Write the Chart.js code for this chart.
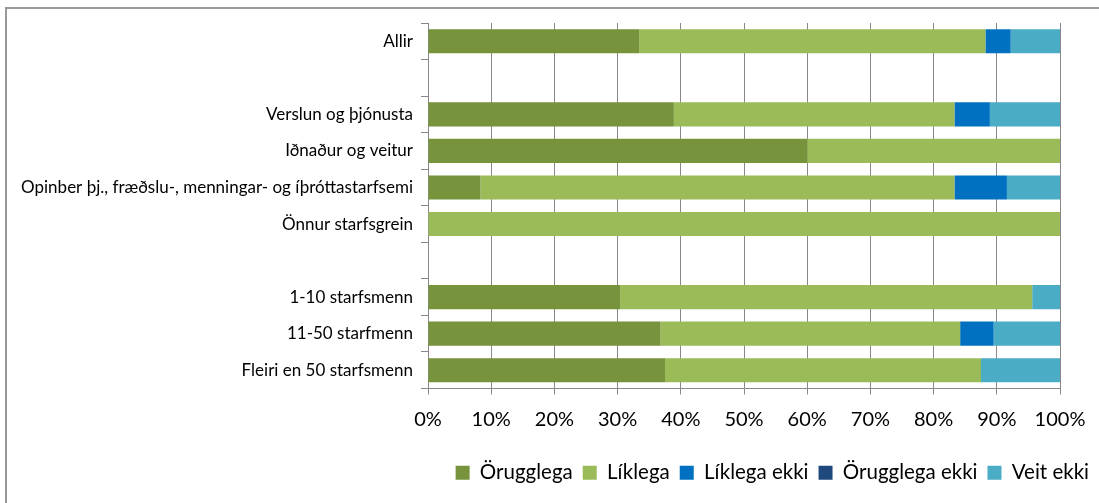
<!DOCTYPE html>
<html>
<head>
<meta charset="utf-8">
<script src="https://cdn.jsdelivr.net/npm/chart.js@4"></script>
<style>
  html, body { margin: 0; padding: 0; background: #fff; }
  #frame { position: absolute; left: 5px; top: 7px; width: 1200px; height: 600px; border: 2px solid #999; pointer-events: none; }
  #wrap { position: absolute; left: 0; top: 0; width: 1099px; height: 503px; }
</style>
</head>
<body>
<div id="wrap"><canvas id="chart"></canvas></div>
<div id="frame"></div>
<script>
const categories = [
    'Allir',
    '',
    'Verslun og þjónusta',
    'Iðnaður og veitur',
    'Opinber þj., fræðslu-, menningar- og íþróttastarfsemi',
    'Önnur starfsgrein',
    '',
    '1-10 starfsmenn',
    '11-50 starfmenn',
    'Fleiri en 50 starfsmenn'
];
const seriesNames = ['Örugglega', 'Líklega', 'Líklega ekki', 'Örugglega ekki', 'Veit ekki'];
const orugglega     = [33.4, null, 38.9, 60, 8.3, 0, null, 30.4, 36.8, 37.5];
const liklega       = [54.8, null, 44.4, 40, 75.0, 100, null, 65.2, 47.4, 50.0];
const liklegaEkki   = [4.0, null, 5.6, 0, 8.3, 0, null, 0, 5.3, 0];
const orugglegaEkki = [0, null, 0, 0, 0, 0, null, 0, 0, 0];
const veitEkki      = [7.8, null, 11.1, 0, 8.4, 0, null, 4.4, 10.5, 12.5];
const xTicks = [0, 10, 20, 30, 40, 50, 60, 70, 80, 90, 100];

const seriesData = [orugglega, liklega, liklegaEkki, orugglegaEkki, veitEkki];
const colors = ['#77933c', '#9bbb59', '#0070c0', '#1f497d', '#4bacc6'];
const font = "Lato, 'Open Sans', sans-serif";

new Chart(document.getElementById('chart'), {
    type: 'bar',
    data: {
        labels: categories,
        datasets: seriesData.map((d, i) => ({
            label: seriesNames[i],
            data: d,
            backgroundColor: colors[i],
            borderWidth: 0,
            categoryPercentage: 1,
            barPercentage: 0.66,
            yAxisID: 'y'
        }))
    },
    options: {
        indexAxis: 'y',
        responsive: true,
        maintainAspectRatio: false,
        animation: false,
        layout: { padding: { left: 0, right: 0, top: 23, bottom: 10 } },
        plugins: {
            tooltip: { enabled: false },
            legend: {
                position: 'bottom',
                align: 'end',
                labels: {
                    color: '#000',
                    font: { family: font, size: 20.5 },
                    boxWidth: 14,
                    boxHeight: 14,
                    padding: 10
                }
            }
        },
        scales: {
            y: {
                stacked: true,
                grid: { display: true, drawOnChartArea: false, offset: true, color: '#888', tickLength: 7 },
                border: { display: true, color: '#888', width: 1 },
                ticks: { color: '#000', font: { family: font, size: 17 }, padding: 8, autoSkip: false },
                afterFit: (s) => { s.width = 428; }
            },
            yRight: {
                axis: 'y',
                type: 'category',
                position: 'right',
                display: true,
                grid: { display: false },
                border: { display: false },
                ticks: { display: false },
                afterFit: (s) => { s.width = 39; }
            },
            x: {
                stacked: true,
                min: 0,
                max: 100,
                afterBuildTicks: (s) => { s.ticks = xTicks.map((v) => ({ value: v })); },
                grid: { color: '#888', tickLength: 6 },
                border: { display: true, color: '#888', width: 1 },
                ticks: {
                    color: '#000',
                    font: { family: font, size: 20 },
                    padding: 13,
                    callback: (v) => v + '%'
                },
                afterFit: (s) => { s.height = 64; }
            }
        }
    }
});
</script>
</body>
</html>
